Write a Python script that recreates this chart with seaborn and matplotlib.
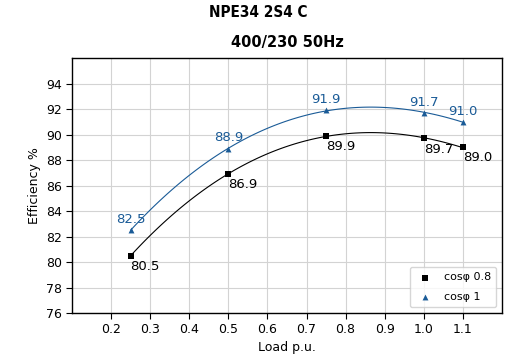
import numpy as np
import pandas as pd
import matplotlib
matplotlib.use("Agg")
import matplotlib.pyplot as plt
import seaborn as sns

load = [0.25, 0.5, 0.75, 1.0, 1.1]
eff_08 = [80.5, 86.9, 89.9, 89.7, 89.0]
eff_1 = [82.5, 88.9, 91.9, 91.7, 91.0]
xticks = [0.2, 0.3, 0.4, 0.5, 0.6, 0.7, 0.8, 0.9, 1.0, 1.1]
yticks = [76, 78, 80, 82, 84, 86, 88, 90, 92, 94]

sns.set_theme(style="whitegrid")
plt.rcParams['font.family'] = ['DejaVu Sans']
plt.rcParams.update({"text.color": "black", "axes.labelcolor": "black",
                     "xtick.color": "black", "ytick.color": "black"})

fig = plt.figure(figsize=(5.07, 3.61), dpi=100)
ax = fig.add_axes([0.142, 0.133, 0.848, 0.706])

blue = "#1a5b97"
df08 = pd.DataFrame({"load": load, "eff": eff_08})
df1 = pd.DataFrame({"load": load, "eff": eff_1})

sns.regplot(data=df08, x="load", y="eff", order=3, ci=None, scatter=False,
            truncate=True, ax=ax, line_kws=dict(color="black", lw=0.8))
sns.regplot(data=df1, x="load", y="eff", order=3, ci=None, scatter=False,
            truncate=True, ax=ax, line_kws=dict(color=blue, lw=0.8))
sns.scatterplot(data=df08, x="load", y="eff", marker="s", color="black", s=13,
                linewidth=0, ax=ax, label="cosφ 0.8", zorder=5)
sns.scatterplot(data=df1, x="load", y="eff", marker="^", color=blue, s=18,
                linewidth=0, ax=ax, label="cosφ 1", zorder=5)

for x, y in zip(load, eff_08):
    ax.annotate(f"{y:.1f}", (x, y), xytext=(0, -3), textcoords="offset points",
                ha="left", va="top", fontsize=9.5, color="black")
for x, y in zip(load, eff_1):
    ax.annotate(f"{y:.1f}", (x, y), xytext=(0, 3), textcoords="offset points",
                ha="center", va="bottom", fontsize=9.5, color=blue)

ax.set_xlim(0.1, 1.2)
ax.set_ylim(76, 96)
ax.set_xticks(xticks)
ax.set_xticklabels([f"{t:.1f}" for t in xticks])
ax.set_yticks(yticks)
ax.tick_params(axis="both", labelsize=9, length=4, width=0.8, color="black",
               direction="out", bottom=True, left=True, pad=3)
ax.grid(True, color="#d3d3d3", lw=0.8)
for s in ax.spines.values():
    s.set_color("black")
    s.set_linewidth(1.0)
ax.set_xlabel("Load p.u.", fontsize=9)
ax.set_ylabel("Efficiency %", fontsize=9)
ax.set_title("400/230 50Hz", fontsize=10.5, fontweight="bold", pad=8)
fig.suptitle("NPE34 2S4 C", x=0.509, y=0.985, fontsize=11, fontweight="bold",
             fontstretch="condensed")

leg = ax.legend(loc="lower right", fontsize=8, frameon=True, handletextpad=0.9,
                borderpad=0.5, handlelength=1.6, borderaxespad=0.5,
                labelspacing=0.85)
leg.get_frame().set_edgecolor("#cccccc")

fig.savefig("out.png", dpi=100)
